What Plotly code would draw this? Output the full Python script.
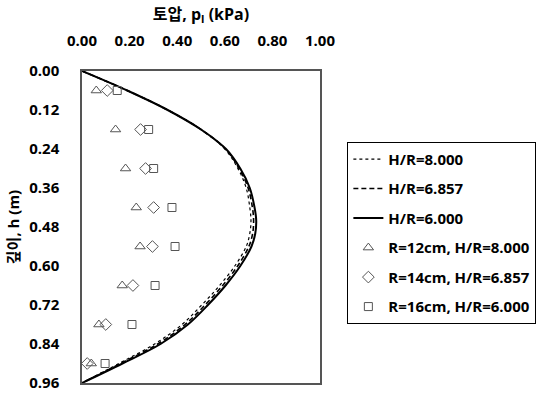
import plotly.graph_objects as go

# depth (m) for the theoretical curves
curve_depth = [0, 0.06, 0.12, 0.18, 0.24, 0.30, 0.36, 0.42, 0.46, 0.50, 0.54, 0.60, 0.66, 0.72, 0.78, 0.84, 0.90, 0.96]
p_hr8000 = [0, 0.19, 0.36, 0.50, 0.600, 0.655, 0.690, 0.705, 0.710, 0.705, 0.690, 0.642, 0.578, 0.503, 0.420, 0.305, 0.155, 0]
p_hr6857 = [0, 0.19, 0.36, 0.50, 0.603, 0.660, 0.698, 0.716, 0.721, 0.717, 0.701, 0.654, 0.591, 0.517, 0.433, 0.318, 0.162, 0]
p_hr6000 = [0, 0.19, 0.36, 0.50, 0.605, 0.665, 0.705, 0.725, 0.732, 0.728, 0.712, 0.665, 0.603, 0.529, 0.445, 0.330, 0.170, 0]

# measured data
meas_depth = [0.06, 0.18, 0.30, 0.42, 0.54, 0.66, 0.78, 0.90]
p_r12 = [0.060, 0.141, 0.183, 0.228, 0.244, 0.169, 0.071, 0.039]
p_r14 = [0.106, 0.246, 0.267, 0.301, 0.296, 0.214, 0.100, 0.022]
p_r16 = [0.148, 0.280, 0.301, 0.378, 0.391, 0.307, 0.210, 0.097]

x_ticks = [0.0, 0.2, 0.4, 0.6, 0.8, 1.0]
y_ticks = [0.0, 0.12, 0.24, 0.36, 0.48, 0.60, 0.72, 0.84, 0.96]

FONT = "Open Sans, Noto Sans CJK KR, sans-serif"
mcol = "#555555"

fig = go.Figure()
fig.add_trace(go.Scatter(x=p_hr8000, y=curve_depth, mode="lines", name="H/R=8.000",
                         line=dict(color="black", width=1.2, dash="dot", shape="spline"), legendgroup="a"))
fig.add_trace(go.Scatter(x=p_hr6857, y=curve_depth, mode="lines", name="H/R=6.857",
                         line=dict(color="black", width=1.6, dash="5px,3px", shape="spline"), legendgroup="b"))
fig.add_trace(go.Scatter(x=p_hr6000, y=curve_depth, mode="lines", name="H/R=6.000",
                         line=dict(color="black", width=2, shape="spline"), legendgroup="c"))
fig.add_trace(go.Scatter(x=p_r12, y=meas_depth, mode="markers", name="R=12cm, H/R=8.000",
                         marker=dict(symbol="triangle-up-open", size=9, color=mcol, line=dict(width=1)), legendgroup="d"))
fig.add_trace(go.Scatter(x=p_r14, y=meas_depth, mode="markers", name="R=14cm, H/R=6.857",
                         marker=dict(symbol="diamond-open", size=9, color=mcol, line=dict(width=1)), legendgroup="e"))
fig.add_trace(go.Scatter(x=p_r16, y=meas_depth, mode="markers", name="R=16cm, H/R=6.000",
                         marker=dict(symbol="square-open", size=8, color=mcol, line=dict(width=1)), legendgroup="f"))

fig.update_layout(
    width=546, height=393,
    margin=dict(l=82, r=226, t=71, b=10, autoexpand=False),
    paper_bgcolor="white", plot_bgcolor="white",
    font=dict(family=FONT, size=15, color="black"),
    showlegend=True,
    legend=dict(x=1.115, y=0.773, xanchor="left", yanchor="top",
                bordercolor="black", borderwidth=1,
                font=dict(family=FONT, size=15, color="black", weight="bold"),
                tracegroupgap=7, traceorder="grouped", itemwidth=30),
)
fig.update_xaxes(
    side="top", range=[0, 1], tickvals=x_ticks, tickformat=".2f", automargin=False,
    showgrid=False, zeroline=False, showline=True, mirror=True,
    linecolor="#555555", linewidth=1.5, ticks="", ticklabelstandoff=17,
    tickfont=dict(family=FONT, size=15, weight="bold"),
    title=dict(text="토압, p<sub>l</sub> (kPa)", standoff=6,
               font=dict(family=FONT, size=16, weight="bold")),
)
fig.update_yaxes(
    range=[0.96, 0], tickvals=y_ticks, tickformat=".2f", automargin=False,
    showgrid=False, zeroline=False, showline=True, mirror=True,
    linecolor="#555555", linewidth=1.5, ticks="", ticklabelstandoff=18,
    tickfont=dict(family=FONT, size=15, weight="bold"),
    title=dict(text="깊이, h (m)", standoff=6,
               font=dict(family=FONT, size=15, weight="bold")),
)

fig.write_html("out.html")
